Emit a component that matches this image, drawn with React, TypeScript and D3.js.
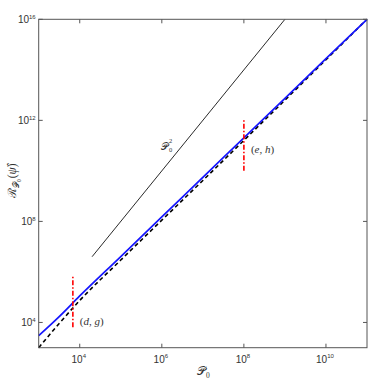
import React, { useRef, useEffect } from 'react';
import * as d3 from 'd3';

// x positions (P0) shared by the curves
const p0Values = [1e3, 3.16e3, 1e4, 1e5, 1e6, 1e7, 1e8, 1e9, 1e10, 1e11];
// blue solid curve
const blueValues = [3.0e3, 1.7e4, 1.12e5, 4.07e6, 1.51e8, 5.5e9, 2.04e11, 7.4e12, 2.75e14, 1e16];
// black dashed curve
const dashedValues = [1e3, 9.1e3, 7.4e4, 2.95e6, 1.12e8, 4.17e9, 1.62e11, 6.3e12, 2.51e14, 1e16];
// reference slope line ~ P0^2
const squareX = [2e4, 1e9];
const squareY = [4e6, 1e16];
// red dash-dot markers
const markers = [
  { x: 6.8e3, y0: 6.5e3, y1: 7.6e5, labelY: 1.1e4, label: ['d', 'g'] },
  { x: 1e8, y0: 1e10, y1: 1e12, labelY: 7e10, label: ['e', 'h'] },
];
const xTicks = [1e4, 1e6, 1e8, 1e10];
const yTicks = [1e4, 1e8, 1e12, 1e16];

function App() {
  const ref = useRef<SVGSVGElement>(null);

  useEffect(() => {
    const svg = d3.select(ref.current);
    svg.selectAll("*").remove();

    const left = 38.7, right = 367, top = 19.3, bottom = 347.7;
    const x = d3.scaleLog().domain([1e3, 1e11]).range([left, right]);
    const y = d3.scaleLog().domain([1e3, 1e16]).range([bottom, top]);
    const axisColor = "#555";
    const tickFont = "'Liberation Sans', Arial, sans-serif";
    const mathFont = "'Liberation Serif', 'DejaVu Serif', serif";
    const textColor = "#333";

    const g = svg.append("g");

    // P0^2 line
    g.append("path")
      .datum(squareX.map((v, i) => [v, squareY[i]]))
      .attr("d", d3.line().x(d => x(d[0])).y(d => y(d[1])))
      .attr("fill", "none").attr("stroke", "#111").attr("stroke-width", 0.9);

    const line = d3.line<number>()
      .x((d, i) => x(p0Values[i]))
      .y(d => y(d))
      .curve(d3.curveMonotoneX);

    g.append("path")
      .datum(dashedValues)
      .attr("d", line)
      .attr("fill", "none").attr("stroke", "#000").attr("stroke-width", 1.6)
      .attr("stroke-dasharray", "4,3");

    g.append("path")
      .datum(blueValues)
      .attr("d", line)
      .attr("fill", "none").attr("stroke", "#1515ff").attr("stroke-width", 1.7);

    // red markers
    markers.forEach(m => {
      g.append("line")
        .attr("x1", x(m.x)).attr("x2", x(m.x))
        .attr("y1", y(m.y0)).attr("y2", y(m.y1))
        .attr("stroke", "#f00").attr("stroke-width", 1.6)
        .attr("stroke-dasharray", "5,2,1.5,2");
      const t = g.append("text")
        .attr("x", x(m.x) + 7)
        .attr("y", y(m.labelY))
        .attr("dy", "0.35em")
        .style("font-family", mathFont)
        .style("font-size", "11px")
        .style("fill", textColor);
      t.append("tspan").text("(");
      t.append("tspan").style("font-style", "italic").text(m.label[0]);
      t.append("tspan").text(", ");
      t.append("tspan").style("font-style", "italic").text(m.label[1]);
      t.append("tspan").text(")");
    });

    // P0^2 label
    const mathText = (px: number, py: number, s: string, size: number) =>
      g.append("text").attr("x", px).attr("y", py)
        .style("font-family", mathFont).style("font-size", size + "px")
        .style("fill", textColor).text(s);
    mathText(161, 150, "𝒫", 10);
    mathText(169, 152, "0", 6.5);
    mathText(169, 143, "2", 6.5);

    // axes box
    g.append("rect")
      .attr("x", left).attr("y", top)
      .attr("width", right - left).attr("height", bottom - top)
      .attr("fill", "none").attr("stroke", axisColor).attr("stroke-width", 1);

    xTicks.forEach(v => {
      g.append("line").attr("x1", x(v)).attr("x2", x(v)).attr("y1", bottom).attr("y2", bottom - 4)
        .attr("stroke", axisColor);
      g.append("line").attr("x1", x(v)).attr("x2", x(v)).attr("y1", top).attr("y2", top + 4)
        .attr("stroke", axisColor);
      const t = g.append("text")
        .attr("x", x(v) - 1).attr("y", bottom + 15)
        .attr("text-anchor", "middle")
        .style("font-family", tickFont).style("font-size", "10px").style("fill", textColor);
      t.append("tspan").text("10");
      t.append("tspan").attr("dy", -4.5).style("font-size", "6px").text(Math.round(Math.log10(v)));
    });

    yTicks.forEach(v => {
      g.append("line").attr("x1", left).attr("x2", left + 4).attr("y1", y(v)).attr("y2", y(v))
        .attr("stroke", axisColor);
      g.append("line").attr("x1", right).attr("x2", right - 4).attr("y1", y(v)).attr("y2", y(v))
        .attr("stroke", axisColor);
      const t = g.append("text")
        .attr("x", left - 3).attr("y", y(v) + 4)
        .attr("text-anchor", "end")
        .style("font-family", tickFont).style("font-size", "10px").style("fill", textColor);
      t.append("tspan").text("10");
      t.append("tspan").attr("dy", -4.5).style("font-size", "6px").text(Math.round(Math.log10(v)));
    });

    // x label
    mathText(197, 375, "𝒫", 11.5);
    mathText(206, 378, "0", 7.5);

    // y label
    const yl = g.append("text")
      .attr("transform", "translate(16,198) rotate(-90)")
      .style("font-family", mathFont).style("font-size", "11.5px").style("fill", textColor);
    yl.append("tspan").text("ℛ");
    yl.append("tspan").attr("dy", 3).style("font-size", "7.5px").text("𝒫");
    yl.append("tspan").attr("dy", 2).style("font-size", "5.5px").text("0");
    yl.append("tspan").attr("dy", -5).attr("dx", 1).text("(");
    yl.append("tspan").style("font-style", "italic").text("ψ̂");
    yl.append("tspan").text(")");
  }, []);

  return (
    <svg ref={ref} width={386} height={387}
      style={{ position: 'fixed', left: 0, top: 0, background: '#fff' }} />
  );
}

export default App;
